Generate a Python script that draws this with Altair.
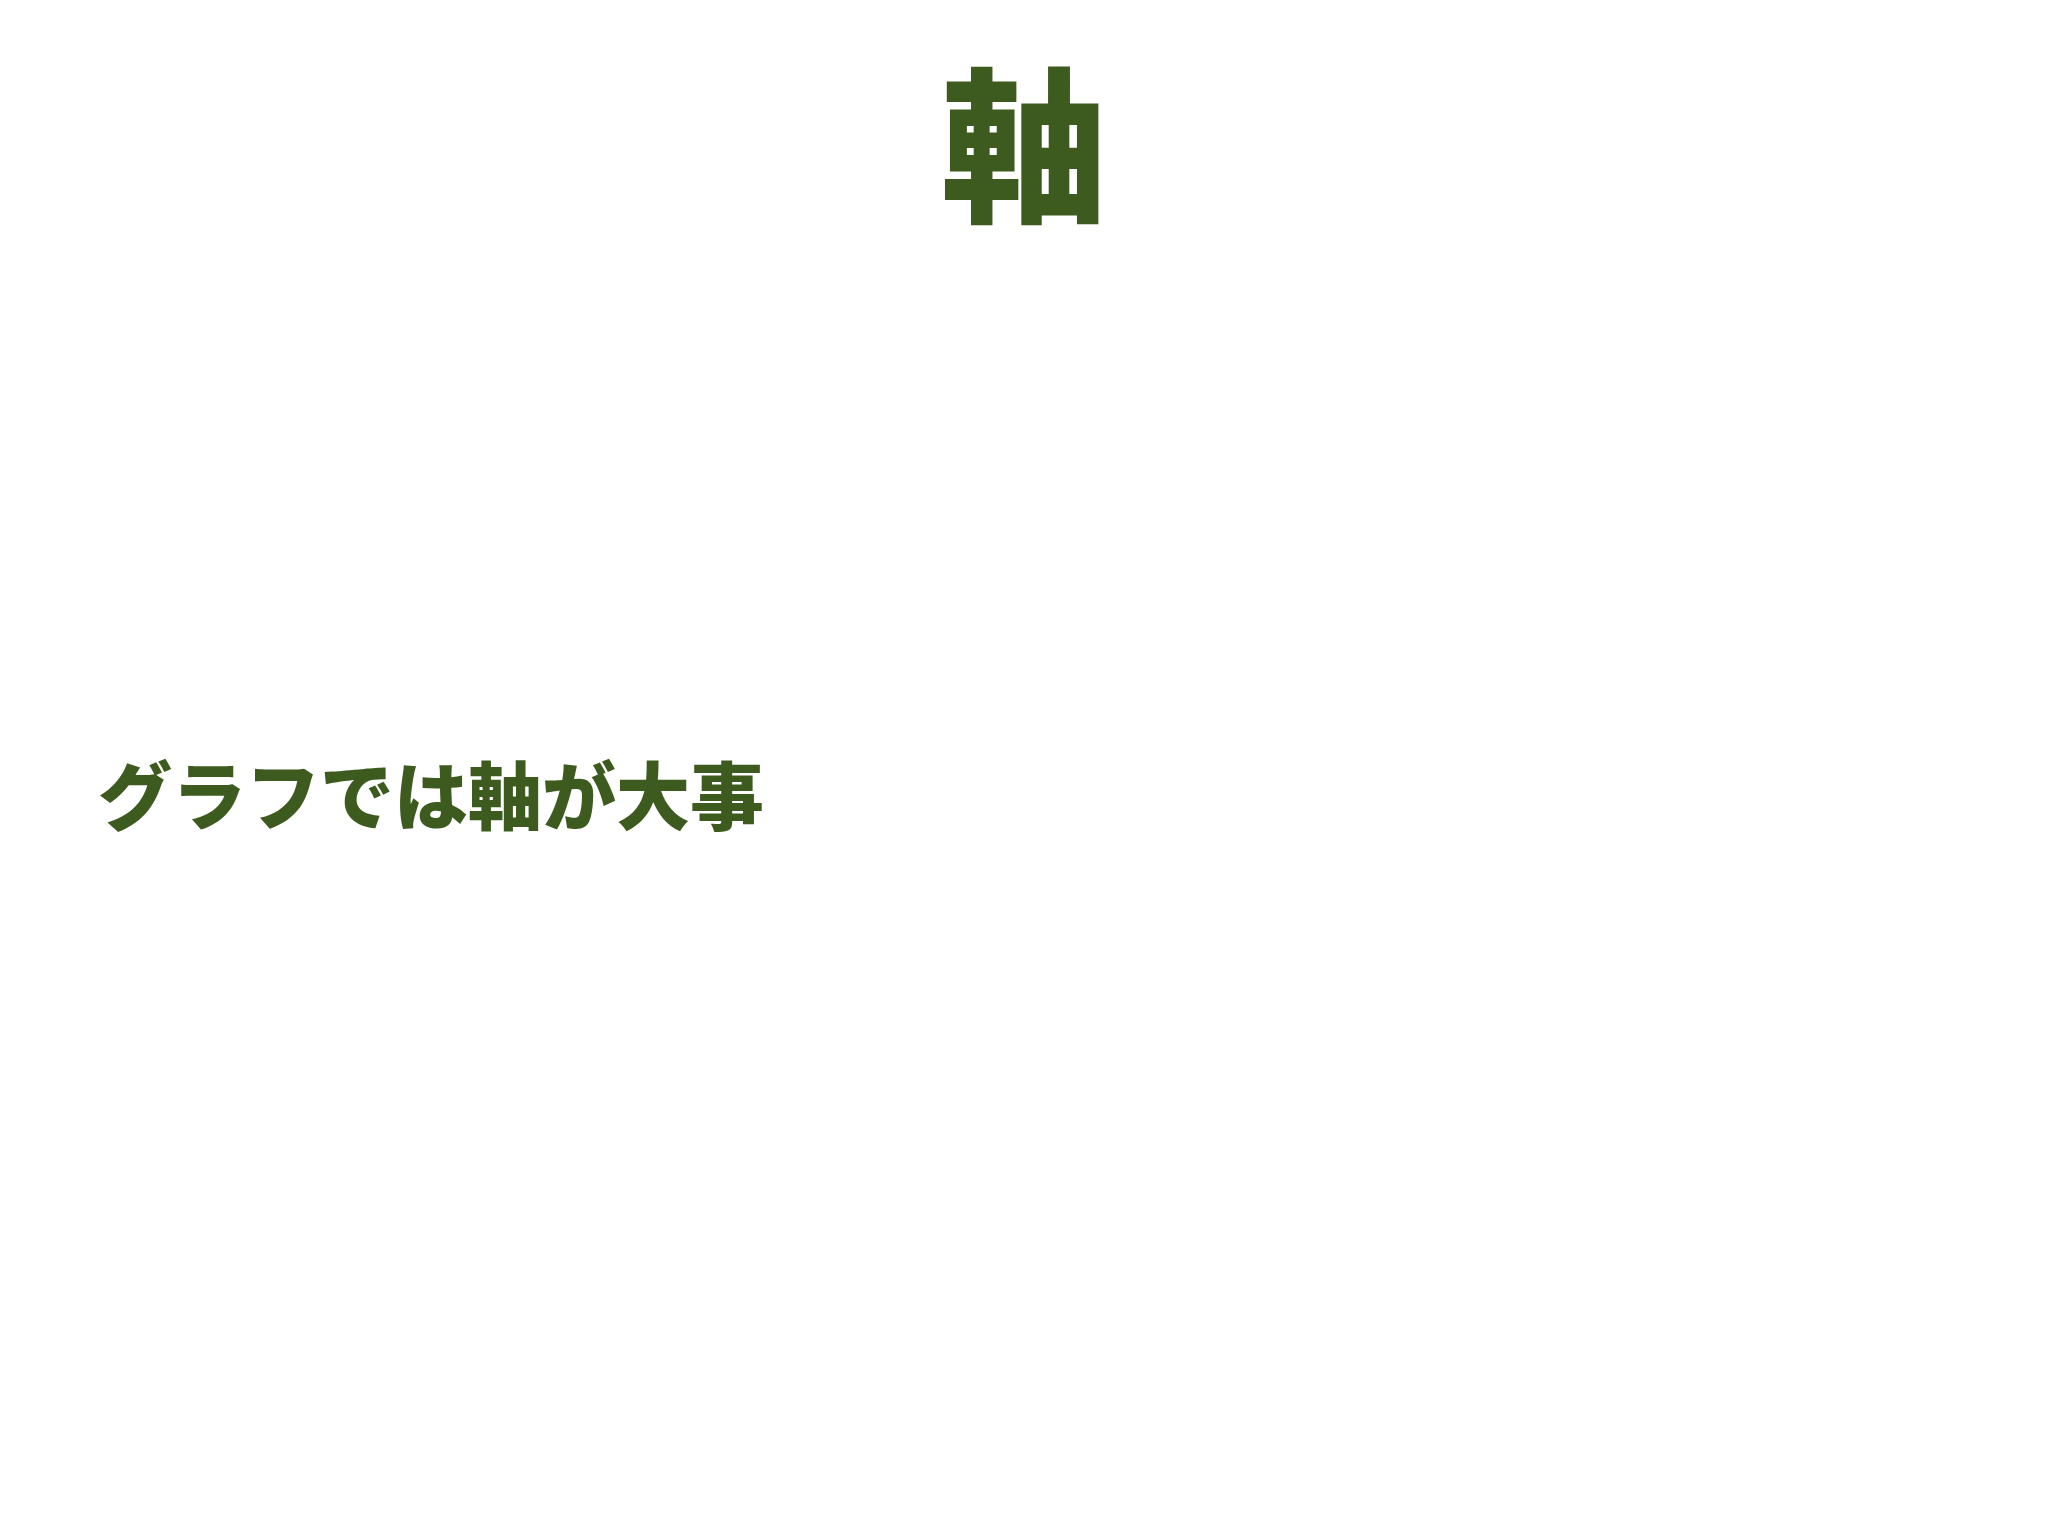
import pandas as pd
import altair as alt

# スライドの文字
title_text = ["軸"]
body_lines = ["グラフでは軸が大事"]

green = "#3D5B1E"
font = "Noto Sans CJK JP"

title_df = pd.DataFrame({"text": title_text})
body_df = pd.DataFrame({"text": body_lines})

title = alt.Chart(title_df).mark_text(
    font=font, fontSize=166, fontWeight=900, color=green,
    align="center", baseline="middle"
).encode(
    x=alt.value(1016),
    y=alt.value(151),
    text="text:N"
)

body = alt.Chart(body_df).mark_text(
    font=font, fontSize=74, fontWeight=900, color=green,
    align="left", baseline="middle"
).encode(
    x=alt.value(90),
    y=alt.value(794),
    text="text:N"
)

chart = alt.layer(title, body).properties(
    width=2032,
    height=1520,
    padding=0,
    autosize=alt.AutoSizeParams(type="none"),
    background="white"
).configure_view(stroke=None)

chart.save("out.html", embed_options={"renderer": "svg", "actions": False})
